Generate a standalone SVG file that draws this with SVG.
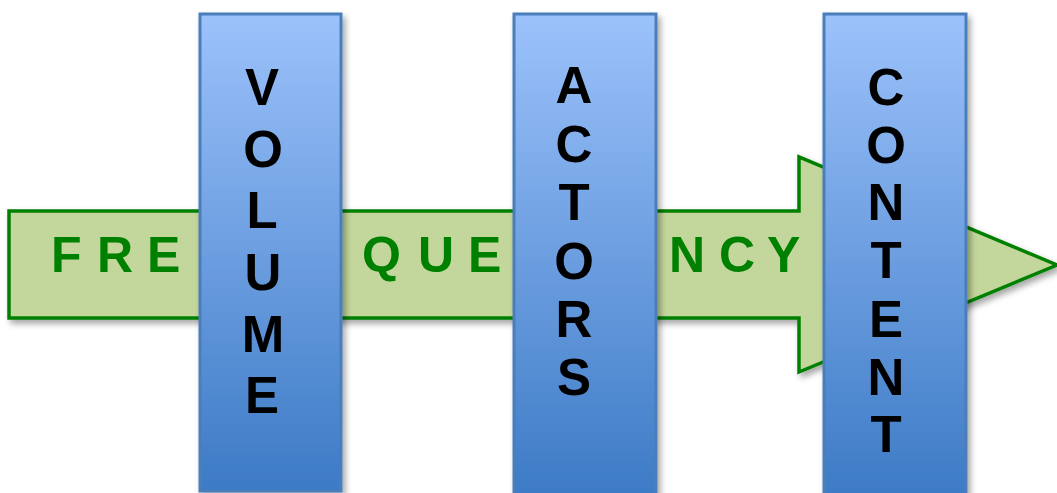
<svg xmlns="http://www.w3.org/2000/svg" width="1057" height="493" viewBox="0 0 1057 493">
  <defs>
    <linearGradient id="barGrad" x1="0" y1="0" x2="0" y2="1">
      <stop offset="0" stop-color="#9cc2fb"/>
      <stop offset="1" stop-color="#3c7ac5"/>
    </linearGradient>
    <filter id="shadow" x="-10%" y="-10%" width="130%" height="130%">
      <feDropShadow dx="3" dy="4" stdDeviation="3" flood-color="#000" flood-opacity="0.35"/>
    </filter>
    <style>
      .arrow { fill: #c3d69b; stroke: #008000; stroke-width: 3.5; stroke-linejoin: miter; }
      .bar { fill: url(#barGrad); stroke: #4a7ebb; stroke-width: 3; }
      .gtext { font-family: "Liberation Sans", Arial, sans-serif; font-weight: bold; font-size: 50px; fill: #008000; }
      .vtext { font-family: "Liberation Sans", Arial, sans-serif; font-weight: bold; font-size: 51px; fill: #000; text-anchor: middle; }
    </style>
  </defs>
  <rect width="1057" height="493" fill="#ffffff"/>

  <g id="connectors">
    <g id="frequency-arrow">
      <polygon class="arrow" filter="url(#shadow)" points="9,211 799,211 799,157 1057,265 799,372 799,318 9,318"/>
      <text class="gtext" y="272"><tspan x="51">F</tspan><tspan x="97">R</tspan><tspan x="147">E</tspan></text>
      <text class="gtext" y="272"><tspan x="362">Q</tspan><tspan x="418">U</tspan><tspan x="468">E</tspan></text>
      <text class="gtext" y="272"><tspan x="669">N</tspan><tspan x="719">C</tspan><tspan x="767">Y</tspan></text>
    </g>
  </g>

  <g id="volume">
    <rect class="bar" filter="url(#shadow)" x="200" y="14" width="141" height="477"/>
    <text class="vtext" x="262"><tspan x="262" y="105">V</tspan><tspan x="263" y="167">O</tspan><tspan x="262" y="228">L</tspan><tspan x="263" y="290">U</tspan><tspan x="263" y="352">M</tspan><tspan x="262" y="413">E</tspan></text>
  </g>

  <g id="actors">
    <rect class="bar" filter="url(#shadow)" x="514" y="14" width="142" height="485"/>
    <text class="vtext" x="574"><tspan x="574" y="103">A</tspan><tspan x="574" y="162">C</tspan><tspan x="574" y="220">T</tspan><tspan x="574" y="279">O</tspan><tspan x="574" y="337">R</tspan><tspan x="574" y="395">S</tspan></text>
  </g>

  <g id="content">
    <rect class="bar" filter="url(#shadow)" x="824" y="14" width="142" height="485"/>
    <text class="vtext" x="886"><tspan x="886" y="105">C</tspan><tspan x="886" y="163">O</tspan><tspan x="886" y="220">N</tspan><tspan x="886" y="278">T</tspan><tspan x="886" y="337">E</tspan><tspan x="886" y="395">N</tspan><tspan x="886" y="452">T</tspan></text>
  </g>
</svg>
